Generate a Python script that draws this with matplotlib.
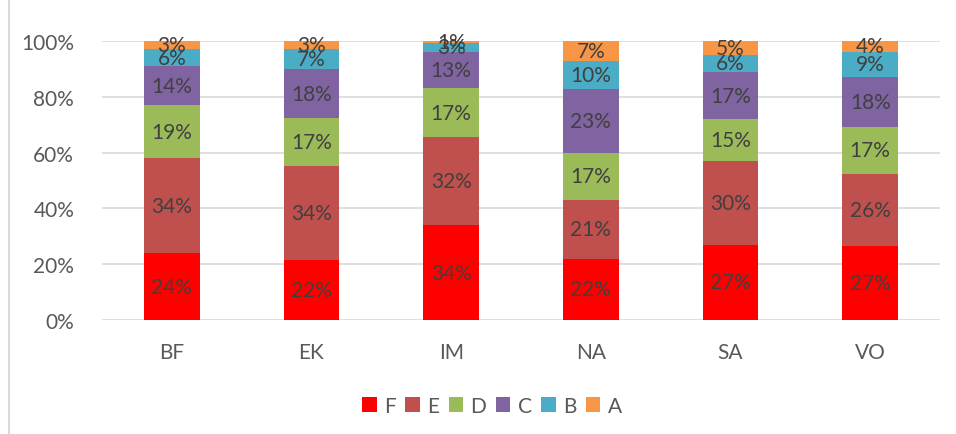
import matplotlib.pyplot as plt
import matplotlib.lines as mlines
import numpy as np

# Share of each grade per group (percent)
groups = ['BF', 'EK', 'IM', 'NA', 'SA', 'VO']
grades = ['F', 'E', 'D', 'C', 'B', 'A']
F = [24.0, 21.5, 34.0, 21.9, 26.9, 26.7]
E = [33.9, 33.7, 31.7, 21.1, 30.1, 25.7]
D = [19.2, 17.1, 17.3, 16.9, 15.0, 16.9]
C = [13.9, 17.7, 13.2, 23.0, 16.9, 17.9]
B = [6.1, 7.1, 3.1, 10.1, 6.1, 9.0]
A = [2.9, 2.9, 0.7, 7.0, 5.0, 3.8]

colors = ['#FF0000', '#C0504D', '#9BBB59', '#8064A2', '#4BACC6', '#F79646']

plt.rcParams['font.family'] = ['Lato', 'DejaVu Sans']

series = np.array([F, E, D, C, B, A])
shares = series / series.sum(axis=0)

fig = plt.figure(figsize=(9.56, 4.35), dpi=100)
ax = fig.add_axes([102 / 956, 1 - 321 / 435, 838 / 956, 279 / 435])

x = np.arange(len(groups))
bottom = np.zeros(len(groups))
for name, vals, raw, col in zip(grades, shares, series, colors):
    bars = ax.bar(x, vals, width=0.4, bottom=bottom, color=col, label=name, zorder=3)
    ax.bar_label(bars, labels=['%d%%' % round(v) for v in raw], label_type='center',
                 color='#404040', fontsize=15, zorder=4)
    bottom += vals

# Axes styling
ax.set_xlim(-0.5, len(groups) - 0.5)
ax.set_ylim(0, 1)
ax.set_yticks(np.arange(0, 1.01, 0.2))
ax.set_yticklabels(['%d%%' % (t * 100) for t in np.arange(0, 1.01, 0.2)])
ax.set_xticks(x)
ax.set_xticklabels(groups)
ax.tick_params(axis='both', length=0, labelsize=15, labelcolor='#595959')
ax.tick_params(axis='y', pad=20)
ax.tick_params(axis='x', pad=16)
ax.grid(axis='y', color='#D9D9D9', linewidth=1.2, zorder=0)
for s in ax.spines.values():
    s.set_visible(False)

# Legend
leg = fig.legend(loc='center', bbox_to_anchor=(492 / 956, 1 - 407 / 435), ncol=6,
                 frameon=False, fontsize=15, handlelength=0.7, handleheight=0.7,
                 handletextpad=0.35, columnspacing=0.45, labelcolor='#595959')

# Chart area border (left edge visible)
fig.add_artist(mlines.Line2D([9 / 956, 9 / 956], [0, 1], color='#D9D9D9', linewidth=1.5))

fig.savefig('out.png', dpi=100)
